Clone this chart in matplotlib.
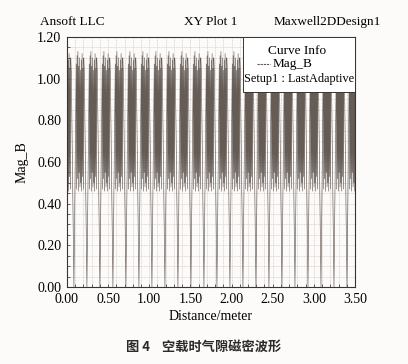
import numpy as np
import matplotlib
matplotlib.use("Agg")
import matplotlib.pyplot as plt
from matplotlib.patches import Rectangle
from matplotlib.ticker import MultipleLocator

# positions (m) of the pole-boundary dips
dips = [0.085, 0.243, 0.401, 0.559, 0.717, 0.875, 1.033, 1.191, 1.349, 1.507, 1.665,
        1.823, 1.981, 2.139, 2.297, 2.455, 2.613, 2.771, 2.929, 3.087, 3.245, 3.403]
# one pole pitch of Mag_B (phase 0 = dip, phase 1 = next dip), slot ripple included
phase = [0.000, 0.180, 0.212, 0.244, 0.276, 0.308, 0.340, 0.372, 0.404, 0.436, 0.468,
         0.500, 0.532, 0.564, 0.596, 0.628, 0.660, 0.692, 0.724, 0.756, 0.800, 1.000]
mag_b = [0.00, 1.07, 0.47, 1.11, 0.52, 1.13, 0.46, 1.06, 0.55, 1.10, 0.48,
         1.04, 0.50, 1.09, 0.46, 1.12, 0.53, 1.05, 0.47, 1.10, 1.03, 0.00]

xticks = [0.0, 0.5, 1.0, 1.5, 2.0, 2.5, 3.0, 3.5]
yticks = [0.0, 0.2, 0.4, 0.6, 0.8, 1.0, 1.2]

# tile the pole profile between consecutive dips
pitch = np.diff(dips).mean()
starts = [dips[0] - pitch] + dips
xs, ys = [], []
for i, d in enumerate(starts):
    p = (starts[i + 1] - d) if i + 1 < len(starts) else pitch
    xs.append(d + np.array(phase) * p)
    ys.append(np.array(mag_b))
x = np.concatenate(xs); y = np.concatenate(ys)

plt.rcParams["font.family"] = ["Liberation Serif", "DejaVu Serif"]
fig = plt.figure(figsize=(4.08, 3.64), dpi=100)
fig.patch.set_facecolor("#fdfbfa")
ax = fig.add_axes([0.164, 0.2115, 0.706, 0.687])
ax.set_facecolor("#fdfbfa")

ax.plot(x, y, color="#655c56", lw=0.45)
ax.set_xlim(0, 3.5); ax.set_ylim(0, 1.2)
ax.set_xticks(xticks); ax.set_yticks(yticks)
ax.set_xticklabels([f"{v:.2f}" for v in xticks], fontsize=10)
ax.set_yticklabels([f"{v:.2f}" for v in yticks], fontsize=10)
ax.xaxis.set_minor_locator(MultipleLocator(0.1))
ax.yaxis.set_minor_locator(MultipleLocator(0.05))
ax.tick_params(which="both", direction="in", length=2.5, width=0.6, color="#444")
ax.tick_params(which="major", pad=4)
ax.grid(which="both", color="#bdb5af", ls=(0, (1.5, 1.5)), lw=0.4)
for s in ax.spines.values():
    s.set_color("#3a3330"); s.set_linewidth(0.8)
ax.set_xlabel("Distance/meter", fontsize=10, labelpad=3)
ax.set_ylabel("Mag_B", fontsize=10, labelpad=6)

# header line
fig.text(0.098, 0.94, "Ansoft LLC", fontsize=9.5, ha="left", va="center")
fig.text(0.517, 0.94, "XY Plot 1", fontsize=9.5, ha="center", va="center")
fig.text(0.935, 0.94, "Maxwell2DDesign1", fontsize=9.5, ha="right", va="center")

# curve info box
ax.add_patch(Rectangle((0.61, 0.78), 0.39, 0.22, transform=ax.transAxes,
                       facecolor="white", edgecolor="#3a3330", lw=0.7, zorder=5))
ax.text(0.80, 0.945, "Curve Info", transform=ax.transAxes, fontsize=9.5,
        ha="center", va="center", zorder=6)
ax.plot([0.66, 0.705], [0.89, 0.89], transform=ax.transAxes, color="#5e5550",
        lw=0.8, ls=(0, (2, 0.8)), zorder=6)
ax.text(0.715, 0.89, "Mag_B", transform=ax.transAxes, fontsize=9.5,
        ha="left", va="center", zorder=6)
ax.text(0.805, 0.83, "Setup1 : LastAdaptive", transform=ax.transAxes, fontsize=8.8,
        ha="center", va="center", zorder=6)

fig.text(0.50, 0.047, "图 4    空载时气隙磁密波形", fontsize=9.5, ha="center", va="center",
         fontweight="bold", family=["Noto Sans CJK SC", "DejaVu Sans"], color="#2a2a2a")

fig.savefig("out.png", dpi=100, facecolor=fig.get_facecolor())
